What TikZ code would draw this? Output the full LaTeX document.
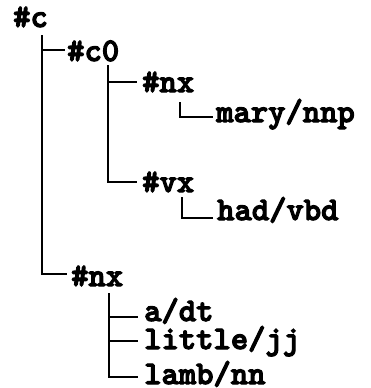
\documentclass[tikz,border=0pt]{standalone}
\font\heavytt="[lmmonolt10-bold.otf]:embolden=3.5" at 33pt
\begin{document}
\begin{tikzpicture}[x=1pt,y=-1pt,
  lbl/.style={anchor=base west,inner sep=0pt,font=\heavytt},
  treeline/.style={line width=1.4pt}]
\useasboundingbox (0,0) rectangle (371,388);
\node[lbl] (c)      at (13,27)  {\#c};
\node[lbl] (c0)     at (67,61)  {\#c0};
\node[lbl] (nx1)    at (142,92) {\#nx};
\node[lbl] (mary)   at (216,122){mary/nnp};
\node[lbl] (vx)     at (142,192){\#vx};
\node[lbl] (had)    at (217,220){had/vbd};
\node[lbl] (nx2)    at (71,286) {\#nx};
\node[lbl] (adt)    at (144,321){a/dt};
\node[lbl] (little) at (144,349){little/jj};
\node[lbl] (lamb)   at (144,384){lamb/nn};
% #c
\draw[treeline] ([shift={(29,8)}]c.base west) |- ([shift={(-2,-11)}]c0.base west);
\draw[treeline] ([shift={(29,8)}]c.base west) |- ([shift={(-4,-12)}]nx2.base west);
% #c0
\draw[treeline] ([shift={(41,4)}]c0.base west) |- ([shift={(-5,-10)}]nx1.base west);
\draw[treeline] ([shift={(41,4)}]c0.base west) |- ([shift={(-5,-10)}]vx.base west);
% #nx
\draw[treeline] ([shift={(38,10)}]nx1.base west) |- ([shift={(-3,-5)}]mary.base west);
% #vx
\draw[treeline] ([shift={(40,5)}]vx.base west) |- ([shift={(-4,-2)}]had.base west);
% #nx lower
\draw[treeline] ([shift={(38,7)}]nx2.base west) |- ([shift={(-6,-4)}]adt.base west);
\draw[treeline] ([shift={(38,7)}]nx2.base west) |- ([shift={(-6,-8)}]little.base west);
\draw[treeline] ([shift={(38,7)}]nx2.base west) |- ([shift={(-6,-7)}]lamb.base west);
\end{tikzpicture}
\end{document}
